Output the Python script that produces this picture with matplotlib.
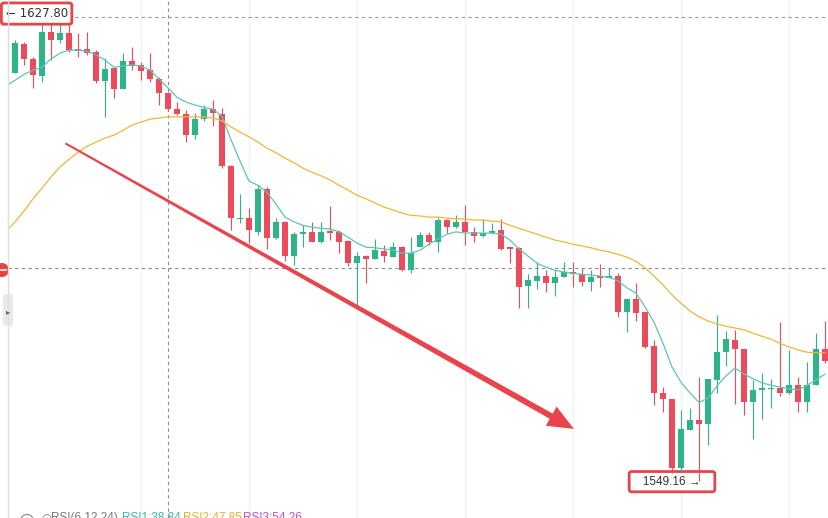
import matplotlib
matplotlib.use('Agg')
import matplotlib.pyplot as plt
import matplotlib.patches as mpatches
import numpy as np

plt.rcParams['font.family'] = ['Liberation Sans', 'DejaVu Sans']

# candles, first one is cut by the left edge (index -1)
opens = [1626.4, 1618.3, 1623.2, 1620.7, 1617.8, 1625.3, 1623.9, 1625.1, 1622.4, 1622.4,
         1621.9, 1617.0, 1619.2, 1615.6, 1620.3, 1619.7, 1618.8, 1617.3, 1614.9, 1612.2,
         1611.4, 1607.8, 1610.5, 1612.2, 1611.4, 1602.5, 1593.5, 1593.7, 1591.4, 1598.6,
         1590.3, 1593.1, 1587.3, 1591.0, 1591.4, 1589.6, 1591.5, 1591.4, 1589.8, 1586.1,
         1587.3, 1586.8, 1588.1, 1587.1, 1588.8, 1584.9, 1588.8, 1590.9, 1589.6, 1593.4,
         1592.2, 1593.1, 1591.4, 1590.7, 1591.2, 1591.7, 1588.7, 1588.7, 1582.2, 1583.1,
         1583.9, 1582.7, 1583.7, 1584.6, 1584.2, 1582.9, 1583.7, 1583.6, 1583.9, 1577.8,
         1580.0, 1577.8, 1572.0, 1564.1, 1563.1, 1551.4, 1557.8, 1559.5, 1558.8, 1566.3,
         1571.0, 1573.1, 1571.5, 1562.5, 1564.6, 1564.7, 1564.9, 1564.1, 1565.4, 1562.5,
         1565.4, 1571.5]
highs = [1627.8, 1623.9, 1623.6, 1621.0, 1626.8, 1626.8, 1626.8, 1626.4, 1625.1, 1625.3,
         1622.2, 1620.9, 1619.3, 1621.7, 1622.7, 1620.2, 1621.7, 1617.6, 1615.1, 1613.4,
         1612.0, 1611.5, 1612.9, 1613.7, 1612.4, 1602.7, 1597.8, 1595.4, 1599.3, 1599.0,
         1593.7, 1593.2, 1591.4, 1592.5, 1593.0, 1593.0, 1595.8, 1591.7, 1590.0, 1588.0,
         1587.5, 1590.2, 1589.2, 1589.7, 1589.0, 1590.5, 1591.4, 1591.4, 1593.9, 1593.6,
         1594.2, 1595.9, 1592.2, 1593.6, 1592.9, 1593.6, 1588.8, 1588.8, 1584.2, 1586.3,
         1584.9, 1584.9, 1586.3, 1586.3, 1585.3, 1584.9, 1585.9, 1585.3, 1584.4, 1580.2,
         1582.7, 1577.8, 1573.1, 1565.1, 1563.1, 1561.2, 1561.5, 1566.8, 1566.4, 1577.3,
         1574.6, 1574.8, 1571.5, 1566.3, 1567.5, 1566.4, 1576.1, 1571.4, 1566.8, 1569.3,
         1574.2, 1576.3]
lows = [1618.5, 1618.3, 1619.7, 1615.8, 1616.8, 1620.5, 1623.4, 1621.9, 1621.0, 1621.4,
        1616.6, 1610.8, 1614.1, 1615.6, 1618.8, 1617.1, 1616.8, 1612.9, 1611.9, 1611.2,
        1606.6, 1607.1, 1610.2, 1609.3, 1602.2, 1591.7, 1592.9, 1589.5, 1590.8, 1588.5,
        1590.2, 1586.4, 1585.8, 1588.8, 1589.6, 1589.5, 1590.0, 1587.8, 1585.6, 1579.0,
        1582.7, 1586.8, 1586.3, 1587.1, 1584.7, 1584.4, 1588.8, 1589.2, 1588.0, 1591.2,
        1592.0, 1589.2, 1589.6, 1590.5, 1591.0, 1588.3, 1586.1, 1578.5, 1578.5, 1581.7,
        1581.2, 1580.5, 1583.7, 1582.0, 1582.2, 1581.4, 1582.0, 1583.6, 1576.9, 1574.4,
        1576.3, 1571.7, 1562.0, 1560.9, 1550.5, 1550.5, 1557.8, 1549.16, 1555.3, 1564.1,
        1568.6, 1562.2, 1560.3, 1556.3, 1559.7, 1561.5, 1563.6, 1563.9, 1560.9, 1560.9,
        1565.4, 1569.2]
closes = [1618.8, 1623.4, 1620.7, 1618.0, 1625.3, 1623.9, 1625.1, 1622.2, 1622.0, 1621.7,
          1617.0, 1619.0, 1615.6, 1620.3, 1619.5, 1618.6, 1617.3, 1614.9, 1612.2, 1611.4,
          1607.8, 1610.5, 1612.2, 1611.5, 1602.5, 1593.7, 1593.7, 1591.7, 1598.6, 1590.3,
          1593.1, 1587.3, 1591.0, 1591.4, 1589.6, 1591.4, 1591.2, 1589.6, 1586.1, 1587.3,
          1586.8, 1588.3, 1587.3, 1588.8, 1584.9, 1587.8, 1590.9, 1589.6, 1593.4, 1592.2,
          1593.1, 1591.4, 1590.7, 1591.2, 1591.5, 1588.5, 1588.5, 1582.0, 1583.2, 1583.9,
          1582.7, 1583.7, 1584.6, 1584.2, 1582.9, 1583.7, 1583.6, 1583.9, 1577.8, 1580.0,
          1577.6, 1571.9, 1564.1, 1563.1, 1551.4, 1558.0, 1559.5, 1558.8, 1566.4, 1571.0,
          1573.2, 1571.5, 1562.5, 1564.6, 1564.9, 1564.9, 1564.1, 1565.4, 1562.5, 1565.4,
          1571.5, 1569.5]

# moving averages (teal short, orange long)
ma_fast = [1616.1, 1617.1, 1618.1, 1618.8, 1619.3, 1620.7, 1621.7, 1622.2, 1622.2, 1622.0,
           1621.4, 1620.5, 1619.3, 1619.5, 1619.7, 1619.5, 1618.8, 1617.3, 1615.8, 1614.2,
           1613.4, 1612.9, 1612.5, 1612.2, 1611.0, 1607.0, 1603.4, 1600.0, 1599.3, 1598.1,
           1596.1, 1593.9, 1593.1, 1592.5, 1592.2, 1592.0, 1591.9, 1591.4, 1590.5, 1589.5,
           1588.8, 1588.7, 1588.5, 1588.3, 1587.8, 1587.8, 1588.3, 1589.3, 1590.2, 1591.0,
           1591.4, 1591.2, 1591.2, 1591.2, 1591.2, 1591.0, 1590.0, 1588.5, 1587.3, 1586.1,
           1585.4, 1584.9, 1584.6, 1584.4, 1584.2, 1584.1, 1583.9, 1583.7, 1583.1, 1581.9,
           1581.0, 1578.7, 1576.1, 1572.5, 1568.5, 1565.9, 1564.1, 1562.5, 1563.2, 1565.3,
           1567.0, 1568.3, 1567.3, 1566.5, 1565.8, 1565.4, 1565.1, 1564.8, 1564.6, 1565.4,
           1566.3, 1567.3]
ma_slow = [1591.5, 1593.1, 1594.9, 1597.0, 1598.8, 1600.7, 1602.4, 1603.7, 1604.9, 1605.9,
           1606.6, 1607.3, 1607.8, 1608.6, 1609.5, 1610.0, 1610.5, 1610.7, 1610.9, 1610.9,
           1610.9, 1610.9, 1610.9, 1610.7, 1610.2, 1609.2, 1608.3, 1607.5, 1606.6, 1605.6,
           1604.8, 1603.9, 1603.1, 1602.2, 1601.5, 1600.9, 1600.2, 1599.3, 1598.5, 1597.6,
           1597.0, 1596.3, 1595.6, 1595.1, 1594.6, 1594.2, 1594.1, 1593.9, 1593.9, 1593.7,
           1593.6, 1593.6, 1593.4, 1593.4, 1593.2, 1593.1, 1592.5, 1592.0, 1591.5, 1591.0,
           1590.5, 1590.0, 1589.7, 1589.3, 1589.0, 1588.7, 1588.3, 1588.0, 1587.6, 1587.1,
           1586.4, 1585.3, 1583.9, 1582.4, 1580.7, 1579.3, 1578.0, 1577.0, 1576.3, 1575.8,
           1575.4, 1575.1, 1574.8, 1574.2, 1573.7, 1573.2, 1572.5, 1571.9, 1571.4, 1571.0,
           1570.9, 1570.9]

high_idx, high_price = -1, 1627.80
low_idx, low_price = 76, 1549.16
cross_idx, cross_price = 17, 1585.3
arrow_from = (5.6, 1606.4)
arrow_to = (62.1, 1558.0)

rsi_labels = ['RSI1:38.84', 'RSI2:47.85', 'RSI3:54.26']

GREEN = '#2db489'
RED = '#ec4b5b'
MARK = '#e9434b'

W, H = 829, 518
fig = plt.figure(figsize=(W / 100, H / 100), dpi=100)
ax = fig.add_axes([8 / W, 0, (W - 8) / W, 1])
ax.set_xlim((8 - 15) / 9, (W - 15) / 9)
ax.set_ylim(1542.9, 1630.7)
for s in ax.spines.values():
    s.set_visible(False)
ax.set_xticks(np.arange(14, 91, 12))
ax.set_yticks([])
ax.tick_params(length=0, labelbottom=False)
ax.grid(axis='x', color='#f2f2f2', lw=1)
ax.set_axisbelow(True)

idx = np.arange(-1, len(opens) - 1)
o = np.array(opens); h = np.array(highs); l = np.array(lows); c = np.array(closes)
cols = np.where(c >= o, GREEN, RED)
ax.vlines(idx, l, h, colors=cols, lw=0.8, zorder=3)
ax.bar(idx, np.maximum(np.abs(c - o), 0.3), bottom=np.minimum(o, c), width=0.62,
       color=cols, lw=0, zorder=4)

ax.plot(idx, ma_fast, color='#5cc6b8', lw=0.9, zorder=5)
ax.plot(idx, ma_slow, color='#f2b632', lw=0.9, zorder=5)

# crosshair and high level
dash = (0, (3, 3))
ax.axvline(cross_idx, color='#8a8a8a', lw=0.8, ls=dash, zorder=2)
ax.axhline(cross_price, color='#8a8a8a', lw=0.8, ls=dash, zorder=2)
ax.axhline(high_price, color='#9a9a9a', lw=0.8, ls=dash, zorder=2)

# price labels with red frames
box = dict(boxstyle='round,pad=0.35,rounding_size=0.2', fc='white', ec=MARK, lw=2)
ax.text(high_idx + 3.4, high_price + 0.6, '\u2190 %.2f' % high_price, ha='center', va='center',
        fontsize=8.5, color='#333333', zorder=8, family=['DejaVu Sans'], bbox=box)
ax.text(low_idx - 3, low_price - 0.1, '   %.2f \u2192   ' % low_price, ha='center', va='center',
        fontsize=8.5, color='#333333', zorder=2, bbox=box)


# tapered red arrow
def tapered_arrow(p0, p1, w0, w1, head_len, head_w, color):
    t = ax.transData
    a = t.transform(p0)
    b = t.transform(p1)
    d = b - a
    u = d / np.hypot(*d)
    n = np.array([-u[1], u[0]])
    base = b - u * head_len
    pts = [a + n * w0 / 2, base + n * w1 / 2, base + n * head_w / 2, b,
           base - n * head_w / 2, base - n * w1 / 2, a - n * w0 / 2]
    pts = t.inverted().transform(np.array(pts))
    ax.add_patch(mpatches.Polygon(pts, closed=True, fc=color, ec='none', zorder=6))


tapered_arrow(arrow_from, arrow_to, 2.0, 6.0, 26, 22, MARK)


def fxy(x, y):
    return x / W, 1 - y / H


# left panel bits
fig.add_artist(plt.Line2D([8 / W, 8 / W], [0, 1], color='#dedede', lw=1))
fig.add_artist(mpatches.Ellipse(fxy(2, 270), 14 / W, 14 / H, fc='#e8433f', ec='none'))
fig.add_artist(plt.Line2D([1 / W, 6 / W], [1 - 270 / H] * 2, color='white', lw=1.2))
fig.add_artist(mpatches.FancyBboxPatch(fxy(3, 326), 10 / W, 32 / H,
                                       boxstyle='round,pad=0,rounding_size=0.004',
                                       fc='#e9e9e9', ec='none'))
fig.text(*fxy(8, 312), '\u25b8', ha='center', va='center', fontsize=6, color='#666666',
         family=['DejaVu Sans'])

# indicator legend, cut by the bottom edge
fig.add_artist(mpatches.Ellipse(fxy(27, 521), 13 / W, 13 / H, fc='none', ec='#9a9a9a', lw=1))
fig.text(*fxy(41, 512), '\u25cb', ha='left', va='top', fontsize=8.5, color='#777777',
         family=['DejaVu Sans'])
fig.text(*fxy(51, 512), 'RSI(6,12,24)', ha='left', va='top', fontsize=8.5, color='#777777')
for lab, x, col in zip(rsi_labels, [122, 183, 243], ['#3fb8a6', '#e5b32a', '#c052c6']):
    fig.text(*fxy(x, 512), lab, ha='left', va='top', fontsize=8.5, color=col)

fig.savefig('out.png', dpi=100)
